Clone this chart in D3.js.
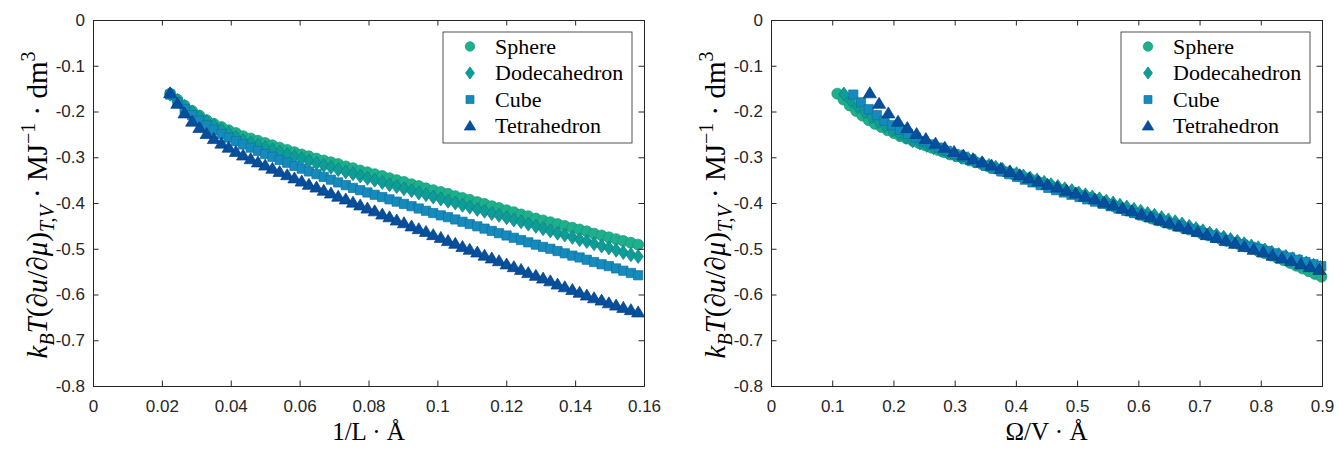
<!DOCTYPE html>
<html>
<head>
<meta charset="utf-8">
<script src="https://cdn.jsdelivr.net/npm/d3@7"></script>
<style>
  body { margin: 0; background: #fff; }
  svg { display: block; }
</style>
</head>
<body>
<svg id="chart" width="1339" height="449"></svg>
<script>
// Inverse box length 1/L (1/Angstrom), shared by all shapes
const invL = [0.0224,0.0245,0.0266,0.0288,0.0309,0.0330,0.0351,0.0373,0.0394,0.0415,
  0.0436,0.0458,0.0479,0.0500,0.0521,0.0542,0.0564,0.0585,0.0606,0.0627,
  0.0649,0.0670,0.0691,0.0712,0.0734,0.0755,0.0776,0.0797,0.0818,0.0840,
  0.0861,0.0882,0.0903,0.0925,0.0946,0.0967,0.0988,0.1010,0.1031,0.1052,
  0.1073,0.1094,0.1116,0.1137,0.1158,0.1179,0.1201,0.1222,0.1243,0.1264,
  0.1286,0.1307,0.1328,0.1349,0.1370,0.1392,0.1413,0.1434,0.1455,0.1477,
  0.1498,0.1519,0.1540,0.1562,0.1583,0.1604,0.1625,0.1646,0.1668,0.1689,
  0.1710,0.1731,0.1753,0.1774,0.1795,0.1816,0.1837,0.1859];

// kB T (du/dmu) values for each shape
const sphere = [-0.161,-0.174,-0.187,-0.199,-0.209,-0.219,-0.227,-0.234,-0.241,-0.247,
  -0.254,-0.259,-0.264,-0.269,-0.274,-0.279,-0.284,-0.289,-0.294,-0.298,
  -0.303,-0.307,-0.311,-0.315,-0.320,-0.324,-0.329,-0.333,-0.337,-0.341,
  -0.346,-0.350,-0.354,-0.359,-0.363,-0.368,-0.372,-0.376,-0.380,-0.385,
  -0.389,-0.393,-0.398,-0.402,-0.407,-0.411,-0.416,-0.420,-0.425,-0.429,
  -0.434,-0.438,-0.442,-0.446,-0.450,-0.454,-0.458,-0.462,-0.467,-0.471,
  -0.475,-0.479,-0.483,-0.487,-0.491,-0.495,-0.500,-0.505,-0.510,-0.515,
  -0.520,-0.525,-0.531,-0.537,-0.543,-0.549,-0.555,-0.561];
const dodecahedron = [-0.162,-0.176,-0.189,-0.201,-0.212,-0.222,-0.231,-0.240,-0.248,-0.256,
  -0.264,-0.269,-0.274,-0.279,-0.284,-0.289,-0.294,-0.299,-0.303,-0.308,
  -0.313,-0.318,-0.322,-0.327,-0.332,-0.336,-0.341,-0.346,-0.350,-0.355,
  -0.360,-0.364,-0.369,-0.373,-0.378,-0.382,-0.387,-0.391,-0.396,-0.400,
  -0.405,-0.409,-0.414,-0.418,-0.423,-0.427,-0.432,-0.437,-0.441,-0.446,
  -0.451,-0.456,-0.461,-0.466,-0.470,-0.475,-0.480,-0.484,-0.489,-0.494,
  -0.498,-0.503,-0.508,-0.513,-0.517,-0.522,-0.527,-0.531,-0.536,-0.541];
const cube = [-0.163,-0.180,-0.195,-0.208,-0.220,-0.230,-0.240,-0.249,-0.257,-0.265,
  -0.272,-0.279,-0.286,-0.293,-0.299,-0.306,-0.312,-0.319,-0.325,-0.331,
  -0.337,-0.343,-0.349,-0.355,-0.361,-0.367,-0.372,-0.377,-0.382,-0.387,
  -0.392,-0.397,-0.402,-0.407,-0.412,-0.417,-0.422,-0.427,-0.431,-0.436,
  -0.441,-0.446,-0.451,-0.456,-0.461,-0.466,-0.471,-0.476,-0.481,-0.486,
  -0.491,-0.496,-0.500,-0.505,-0.510,-0.515,-0.519,-0.524,-0.529,-0.534,
  -0.538,-0.543,-0.548,-0.553,-0.558];
const tetrahedron = [-0.160,-0.183,-0.204,-0.222,-0.236,-0.249,-0.260,-0.270,-0.279,-0.288,
  -0.296,-0.304,-0.311,-0.318,-0.325,-0.332,-0.339,-0.346,-0.353,-0.360,
  -0.366,-0.373,-0.379,-0.386,-0.392,-0.399,-0.405,-0.412,-0.418,-0.425,
  -0.431,-0.438,-0.444,-0.451,-0.457,-0.463,-0.470,-0.476,-0.483,-0.489,
  -0.496,-0.502,-0.508,-0.515,-0.521,-0.527,-0.534,-0.540,-0.546,-0.553,
  -0.559,-0.565,-0.571,-0.578,-0.584,-0.590,-0.596,-0.602,-0.608,-0.613,
  -0.619,-0.624,-0.629,-0.634,-0.639];

// Surface-to-volume ratio times L for each shape (Omega/V = factor / L)
const shapeFactors = [4.836, 5.312, 6.0, 7.206];

const seriesNames = ['Sphere', 'Dodecahedron', 'Cube', 'Tetrahedron'];
const seriesValues = [sphere, dodecahedron, cube, tetrahedron];
const seriesShapes = ['circle', 'diamond', 'square', 'triangle'];
const seriesFill = ['#1eb08c', '#0e9c98', '#158bbd', '#054f9d'];
const seriesEdge = ['#16957a', '#0a8280', '#0f72a0', '#033f82'];

const yTicks = [0, -0.1, -0.2, -0.3, -0.4, -0.5, -0.6, -0.7, -0.8];
const xTicksLeft = [0, 0.02, 0.04, 0.06, 0.08, 0.1, 0.12, 0.14, 0.16];
const xTicksRight = [0, 0.1, 0.2, 0.3, 0.4, 0.5, 0.6, 0.7, 0.8, 0.9];

const svg = d3.select('#chart');
const plotTop = 20, plotBottom = 386;
const tickLen = 5.5;
const serif = '"Liberation Serif", "Times New Roman", serif';

// Marker outline for a given shape, centred on 0,0
function markerPath(shape, s) {
    if (shape === 'circle') {
        const r = s / 2;
        return `M${r},0A${r},${r} 0 1,1 ${-r},0A${r},${r} 0 1,1 ${r},0Z`;
    }
    if (shape === 'diamond') {
        const w = s * 0.47, h = s * 0.64;
        return `M0,${-h}L${w},0L0,${h}L${-w},0Z`;
    }
    if (shape === 'square') {
        const a = s * 0.42;
        return `M${-a},${-a}H${a}V${a}H${-a}Z`;
    }
    const w = s * 0.6, up = s * 0.58, down = s * 0.42;
    return `M0,${-up}L${w},${down}L${-w},${down}Z`;
}

// Draw one panel: axes box, ticks, markers, labels, legend
function drawPanel(left, right, xMax, xTicks, useOmega, xLabel) {
    const x = d3.scaleLinear().domain([0, xMax]).range([left, right]);
    const y = d3.scaleLinear().domain([-0.8, 0]).range([plotBottom, plotTop]);

    const g = svg.append('g');

    // markers, drawn in legend order so tetrahedra sit on top
    seriesValues.forEach((vals, k) => {
        const pts = vals.map((v, i) => ({
            x: useOmega ? invL[i] * shapeFactors[k] : invL[i],
            y: v
        })).filter(d => d.x <= xMax + 1e-9);

        g.append('g')
            .selectAll('path')
            .data(pts)
            .enter()
            .append('path')
            .attr('transform', d => `translate(${x(d.x)},${y(d.y)})`)
            .attr('d', markerPath(seriesShapes[k], 11))
            .attr('fill', seriesFill[k])
            .attr('stroke', seriesEdge[k])
            .attr('stroke-width', 0.7);
    });

    // axes on all four sides with inward ticks
    const fmt = d => String(d);
    g.append('g')
        .attr('transform', `translate(0,${plotBottom})`)
        .call(d3.axisBottom(x).tickValues(xTicks).tickFormat(fmt).tickSize(-tickLen).tickPadding(14));
    g.append('g')
        .attr('transform', `translate(0,${plotTop})`)
        .call(d3.axisTop(x).tickValues(xTicks).tickFormat('').tickSize(-tickLen));
    g.append('g')
        .attr('transform', `translate(${left},0)`)
        .call(d3.axisLeft(y).tickValues(yTicks).tickFormat(fmt).tickSize(-tickLen).tickPadding(8));
    g.append('g')
        .attr('transform', `translate(${right},0)`)
        .call(d3.axisRight(y).tickValues(yTicks).tickFormat('').tickSize(-tickLen));

    g.selectAll('.domain').attr('stroke', '#262626').attr('stroke-width', 1);
    g.selectAll('.tick line').attr('stroke', '#262626').attr('stroke-width', 1);
    g.selectAll('.tick text')
        .attr('fill', '#262626')
        .style('font-family', '"Liberation Sans", Arial, sans-serif')
        .style('font-size', '17px');

    // y axis label (rotated), built from tspans for sub- and superscripts
    const yl = g.append('text')
        .attr('text-anchor', 'middle')
        .attr('transform', `translate(${left - 46},${(plotTop + plotBottom) / 2 + 2}) rotate(-90)`)
        .style('font-family', serif)
        .style('font-size', '29px');
    // [text, italic?, vertical position: 0 base, 1 subscript, -1 superscript]
    const parts = [
        ['k', true, 0], ['B', true, 1], ['T', true, 0], ['(\u2202', false, 0], ['u', true, 0],
        ['/\u2202', false, 0], ['\u03bc', true, 0], [')', false, 0], ['T,V', true, 1],
        [' \u00b7 MJ', false, 0], ['\u22121', false, -1], [' \u00b7 dm', false, 0], ['3', false, -1]
    ];
    let level = 0;
    parts.forEach(([txt, italic, pos]) => {
        const target = pos === 1 ? 7 : pos === -1 ? -12 : 0;
        const t = yl.append('tspan').attr('dy', target - level).text(txt);
        level = target;
        if (italic) t.style('font-style', 'italic');
        if (pos !== 0) t.style('font-size', '20px');
    });

    // x axis label
    g.append('text')
        .attr('text-anchor', 'middle')
        .attr('x', (left + right) / 2)
        .attr('y', 440)
        .style('font-family', serif)
        .style('font-size', '25px')
        .text(xLabel);

    // legend
    const lx = right - 201, ly = 32, lw = 189, lh = 111;
    const lg = g.append('g');
    lg.append('rect')
        .attr('x', lx).attr('y', ly).attr('width', lw).attr('height', lh)
        .attr('fill', '#fff').attr('stroke', '#262626').attr('stroke-width', 0.8);
    seriesNames.forEach((name, k) => {
        const cy = ly + 14.5 + k * 26.5;
        lg.append('path')
            .attr('transform', `translate(${lx + 27},${cy})`)
            .attr('d', markerPath(seriesShapes[k], 9.5))
            .attr('fill', seriesFill[k])
            .attr('stroke', seriesEdge[k])
            .attr('stroke-width', 0.7);
        lg.append('text')
            .attr('x', lx + 52)
            .attr('y', cy + 7)
            .attr('fill', '#000')
            .style('font-family', serif)
            .style('font-size', '22px')
            .text(name);
    });
}

drawPanel(93, 644, 0.16, xTicksLeft, false, '1/L \u00b7 \u00c5');
drawPanel(771, 1322, 0.9, xTicksRight, true, '\u03a9/V \u00b7 \u00c5');
</script>
</body>
</html>
